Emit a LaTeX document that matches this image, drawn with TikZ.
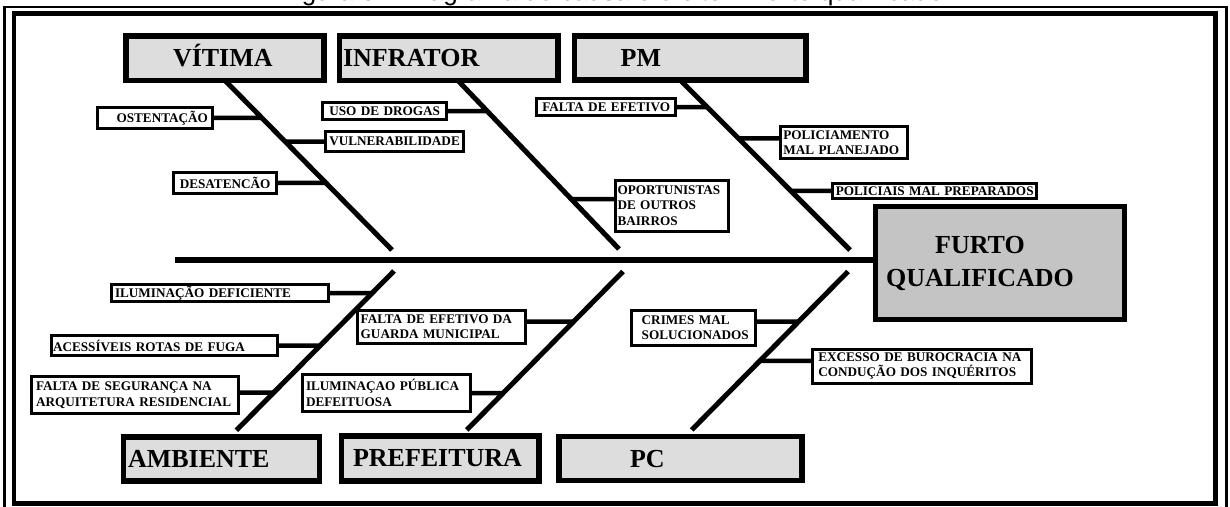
\documentclass[tikz,border=0pt]{standalone}
\usepackage{fontspec}
\setmainfont{Liberation Serif}
\newfontfamily\captionsans{Liberation Sans}
\usetikzlibrary{calc}

\definecolor{catgray}{RGB}{221,221,221}
\definecolor{effectgray}{RGB}{196,196,196}

% box node from the corner points of its outline (centre of the border line)
% #1 style, #2 name, #3-#6 x1 y1 x2 y2, #7 horizontal padding, #8 text
\newcommand\placebox[8]{%
  \pgfmathsetmacro\pbcx{(#3+#5)/2}%
  \pgfmathsetmacro\pbcy{(#4+#6)/2}%
  \pgfmathsetmacro\pbw{#5-#3}%
  \pgfmathsetmacro\pbh{#6-#4}%
  \pgfmathsetmacro\pbtw{#5-#3-2*#7}%
  \node[#1, minimum width=\pbw pt, minimum height=\pbh pt,
        text width=\pbtw pt, inner xsep=#7pt] (#2) at (\pbcx,\pbcy) {#8};%
}

\begin{document}
\begin{tikzpicture}[x=1pt,y=-1pt,
  category/.style={draw=black, fill=catgray, line width=5.5pt, outer sep=0pt,
    inner ysep=0pt, align=left, text height=17pt, text depth=0pt,
    font=\bfseries\fontsize{26}{30}\selectfont},
  effectbox/.style={draw=black, fill=effectgray, line width=5pt, outer sep=0pt,
    align=center, font=\bfseries\fontsize{26}{33}\selectfont},
  cause/.style={draw=black, fill=white, line width=3pt, outer sep=0pt,
    inner ysep=0pt, align=left, font=\bfseries\fontsize{13.2}{15.6}\selectfont},
  bone/.style={line width=5pt},
  spineline/.style={line width=6.7pt},
  twig/.style={line width=4.5pt}]

\useasboundingbox (0,0) rectangle (1230,506);
\fill[white] (0,0) rectangle (1230,506);

% caption running above the frame
\node[anchor=base west, inner sep=0pt, font=\captionsans\fontsize{26}{30}\selectfont]
  (caption) at (280,1) {Figura 3 – Diagrama de causa e efeito – Furto qualificado};

% double frame
\draw[line width=2.5pt] (4.5,7) rectangle (1226.5,520);
\draw[line width=4.5pt] (14,13.5) rectangle (1215.5,503.5);

% effect
\node[effectbox, minimum width=249pt, minimum height=113pt] (effect) at (1000,263)
  {FURTO\rule{40pt}{0pt}\\QUALIFICADO\rule{40pt}{0pt}};

% spine
\coordinate (spine-start) at (175,260);
\draw[spineline] (spine-start) -- (spine-start -| effect.west);

% categories
\placebox{category}{vit}{126}{36}{324}{80.5}{47}{VÍTIMA}
\placebox{category}{inf}{339.5}{36}{558}{80.5}{3.5}{INFRATOR}
\placebox{category}{pm}{574.5}{36}{806}{80}{46.2}{PM}
\placebox{category}{amb}{123.7}{437}{319.7}{481}{4.3}{AMBIENTE}
\placebox{category}{pre}{341.7}{435.8}{539.2}{480.8}{11.3}{PREFEITURA}
\placebox{category}{pcx}{558.8}{436.7}{802}{480.3}{71.2}{PC}

% bones
\coordinate (vit-top) at ($(vit.south west)!0.5!(vit.south east)$);
\coordinate (vit-end) at (392,250);
\coordinate (inf-top) at ($(inf.south west)!0.542!(inf.south east)$);
\coordinate (inf-end) at (619,249);
\coordinate (pm-top) at ($(pm.south west)!0.456!(pm.south east)$);
\coordinate (pm-end) at (850,250);
\coordinate (amb-top) at (394,271);
\coordinate (amb-end) at ($(amb.north west)!0.541!(amb.north east)$);
\coordinate (pre-top) at (623,271.5);
\coordinate (pre-end) at ($(pre.north west)!0.604!(pre.north east)$);
\coordinate (pcx-top) at (848,271.5);
\coordinate (pcx-end) at ($(pcx.north west)!0.519!(pcx.north east)$);

\draw[bone] (vit-top) -- (vit-end);
\draw[bone] (inf-top) -- (inf-end);
\draw[bone] (pm-top) -- (pm-end);
\draw[bone, shorten >=9.5pt] (amb-top) -- (amb-end);
\draw[bone, shorten >=8.2pt] (pre-top) -- (pre-end);
\draw[bone, shorten >=9.5pt] (pcx-top) -- (pcx-end);

% causes: VÍTIMA
\placebox{cause,align=right}{ost}{97.7}{107.3}{212.3}{128.3}{4.3}{OSTENTAÇÃO}
\placebox{cause,align=center}{vul}{325.8}{131.3}{463.3}{151.7}{1}{VULNERABILIDADE}
\placebox{cause,align=center}{des}{173.5}{172.5}{276.7}{193}{3}{DESATENCÃO}
% causes: INFRATOR
\placebox{cause,align=center}{uso}{322.7}{102.3}{446.7}{119.7}{3}{USO~DE~DROGAS}
\placebox{cause}{opo}{615}{180}{728.3}{231}{2.5}{OPORTUNISTAS\\DE~OUTROS\\BAIRROS}
% causes: PM
\placebox{cause,align=center}{fef}{536.7}{98.3}{675.7}{115.7}{3}{FALTA~DE~EFETIVO}
\placebox{cause}{pol}{780}{126.7}{907}{158.3}{3.3}{POLICIAMENTO\\MAL~PLANEJADO}
\placebox{cause,align=center}{prp}{832.7}{183.3}{1036.7}{198.3}{2}{POLICIAIS~MAL~PREPARADOS}
% causes: AMBIENTE
\placebox{cause}{ilu}{111}{284.3}{328}{301.7}{4}{ILUMINAÇÃO~DEFICIENTE}
\placebox{cause}{ace}{51}{335.7}{277.7}{355.7}{2}{ACESSÍVEIS~ROTAS~DE~FUGA}
\placebox{cause}{seg}{31}{376.7}{238.3}{413.3}{5}{FALTA~DE~SEGURANÇA~NA\\ARQUITETURA~RESIDENCIAL}
% causes: PREFEITURA
\placebox{cause}{gua}{357.7}{310}{525.7}{343.3}{3}{FALTA~DE~EFETIVO~DA\\GUARDA~MUNICIPAL}
\placebox{cause}{pub}{302.3}{374.3}{470}{411.7}{3.7}{ILUMINAÇAO~PÚBLICA\\DEFEITUOSA}
% causes: PC
\placebox{cause}{cri}{631.7}{310}{755}{345}{10}{CRIMES~MAL\\SOLUCIONADOS}
\placebox{cause}{exc}{812.3}{349}{1031.7}{383.3}{6}{EXCESSO~DE~BUROCRACIA~NA\\CONDUÇÃO~DOS~INQUÉRITOS}

% twigs joining each cause to its bone
\draw[twig] (ost.east) -- (intersection of ost.west--ost.east and vit-top--vit-end);
\draw[twig] (vul.west) -- (intersection of vul.west--vul.east and vit-top--vit-end);
\draw[twig] (des.east) -- (intersection of des.west--des.east and vit-top--vit-end);

\draw[twig] (uso.east) -- (intersection of uso.west--uso.east and inf-top--inf-end);
\coordinate (opo-a) at ([yshift=6.3pt]opo.west);
\coordinate (opo-b) at ([yshift=6.3pt]opo.east);
\draw[twig] (opo-a) -- (intersection of opo-a--opo-b and inf-top--inf-end);

\draw[twig] (fef.east) -- (intersection of fef.west--fef.east and pm-top--pm-end);
\coordinate (pol-a) at ([yshift=4.2pt]pol.west);
\coordinate (pol-b) at ([yshift=4.2pt]pol.east);
\draw[twig] (pol-a) -- (intersection of pol-a--pol-b and pm-top--pm-end);
\draw[twig] (prp.west) -- (intersection of prp.west--prp.east and pm-top--pm-end);

\draw[twig] (ilu.east) -- (intersection of ilu.west--ilu.east and amb-top--amb-end);
\draw[twig] (ace.east) -- (intersection of ace.west--ace.east and amb-top--amb-end);
\coordinate (seg-a) at ([yshift=2.5pt]seg.west);
\coordinate (seg-b) at ([yshift=2.5pt]seg.east);
\draw[twig] (seg-b) -- (intersection of seg-a--seg-b and amb-top--amb-end);

\coordinate (gua-a) at ([yshift=5pt]gua.west);
\coordinate (gua-b) at ([yshift=5pt]gua.east);
\draw[twig] (gua-b) -- (intersection of gua-a--gua-b and pre-top--pre-end);
\draw[twig] (pub.east) -- (intersection of pub.west--pub.east and pre-top--pre-end);

\coordinate (cri-a) at ([yshift=5.8pt]cri.west);
\coordinate (cri-b) at ([yshift=5.8pt]cri.east);
\draw[twig] (cri-b) -- (intersection of cri-a--cri-b and pcx-top--pcx-end);
\coordinate (exc-a) at ([yshift=5.2pt]exc.west);
\coordinate (exc-b) at ([yshift=5.2pt]exc.east);
\draw[twig] (exc-a) -- (intersection of exc-a--exc-b and pcx-top--pcx-end);

\end{tikzpicture}
\end{document}
